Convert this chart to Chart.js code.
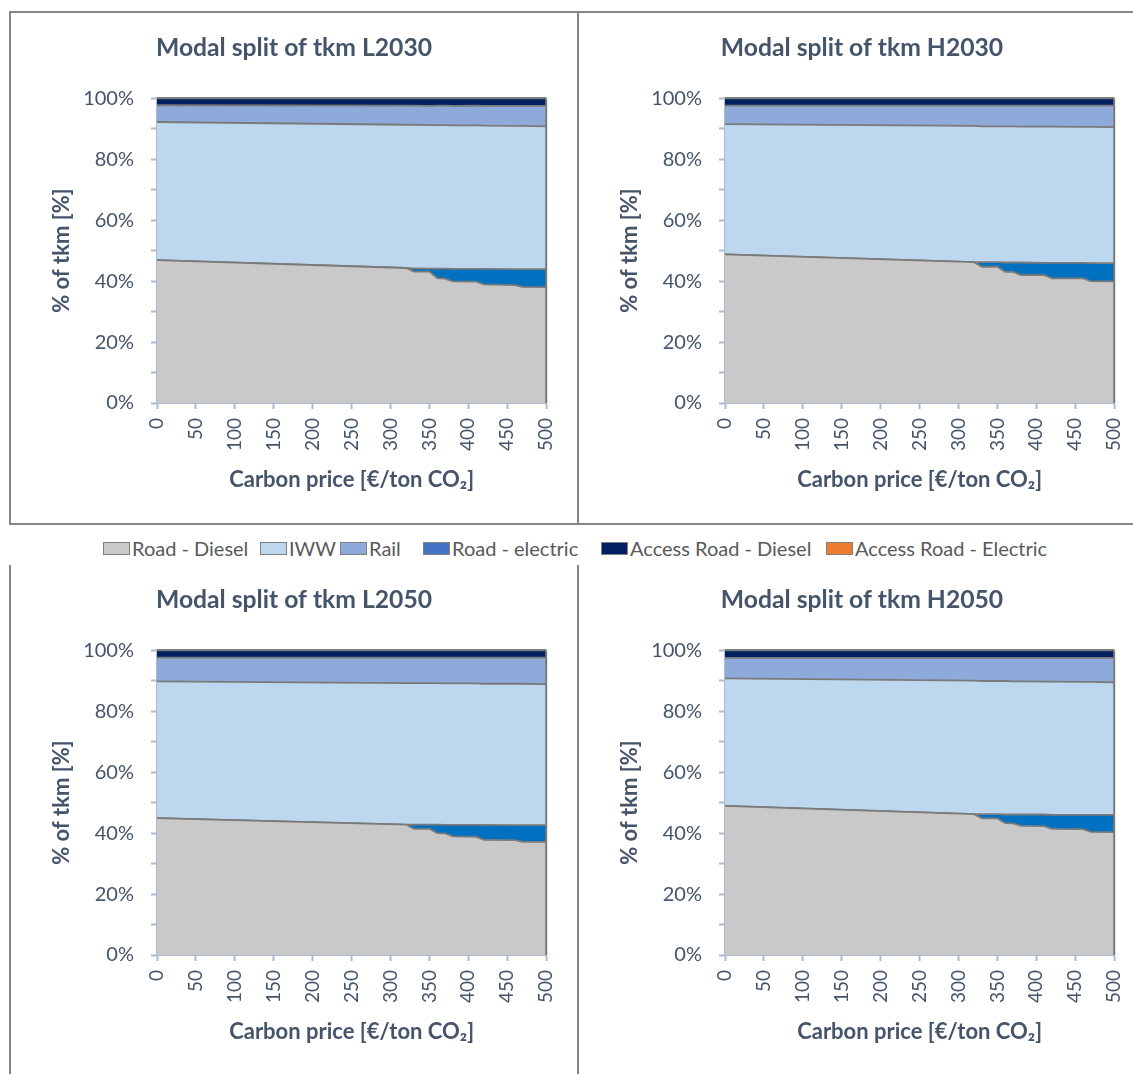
<!DOCTYPE html>
<html>
<head>
<meta charset="utf-8">
<title>Modal split of tkm</title>
<script src="https://cdn.jsdelivr.net/npm/chart.js@4.4.1/dist/chart.umd.min.js"></script>
<style>
  html, body { margin: 0; padding: 0; background: #fff; overflow: hidden; }
  #page { position: relative; width: 1133px; height: 1074px; overflow: hidden; font-family: Lato, "Open Sans", sans-serif; }
  .panel { position: absolute; width: 568px; height: 512px; }
  .rule { position: absolute; background: #868686; }
  #legend { position: absolute; left: 0; top: 537px; width: 1133px; height: 22px;
            white-space: nowrap; font-size: 20px; color: #595959; }
  .item { position: absolute; top: 0; height: 22px; display: flex; align-items: center; }
  .sw { width: 27px; height: 13px; border: 1px solid #7f7f7f; box-sizing: border-box; margin-right: 2px; }
</style>
</head>
<body>
<div id="page">
  <!-- frame lines around the panels -->
  <div class="rule" style="left:9px;top:11px;width:1124px;height:2px"></div>
  <div class="rule" style="left:9px;top:11px;width:2px;height:514px"></div>
  <div class="rule" style="left:577px;top:11px;width:2px;height:514px"></div>
  <div class="rule" style="left:9px;top:523px;width:1124px;height:2px"></div>
  <div class="rule" style="left:9px;top:565px;width:2px;height:509px"></div>
  <div class="rule" style="left:577px;top:565px;width:2px;height:509px"></div>

  <div class="panel" style="left:10px;top:12px"><canvas id="cL2030"></canvas></div>
  <div class="panel" style="left:578px;top:12px"><canvas id="cH2030"></canvas></div>
  <div class="panel" style="left:10px;top:564px"><canvas id="cL2050"></canvas></div>
  <div class="panel" style="left:578px;top:564px"><canvas id="cH2050"></canvas></div>

  <div id="legend"></div>
</div>

<script>
// Carbon price [€/ton CO2] at which the shares are given
const carbonPrice = [0, 320, 330, 350, 360, 370, 380, 410, 420, 460, 470, 500];

// Series names (stack order, bottom to top)
const seriesNames = ['Road - Diesel', 'Road - electric', 'IWW', 'Rail', 'Access Road - Diesel', 'Access Road - Electric'];
// Legend order
const legendOrder = ['Road - Diesel', 'IWW', 'Rail', 'Road - electric', 'Access Road - Diesel', 'Access Road - Electric'];

// Share of tkm [%] - scenario L2030
const roadDieselL2030    = [46.9, 44.3, 43.1, 43.1, 41.0, 40.8, 39.9, 39.8, 38.9, 38.7, 38.1, 38.0];
const roadElectricL2030  = [0.0, 0.0, 1.1, 1.0, 3.1, 3.3, 4.1, 4.2, 5.1, 5.2, 5.8, 5.9];
const iwwL2030           = [45.3, 47.0, 47.1, 47.1, 47.1, 47.1, 47.1, 47.1, 47.0, 47.0, 47.0, 46.9];
const railL2030          = [5.5, 6.3, 6.3, 6.3, 6.4, 6.4, 6.4, 6.5, 6.5, 6.6, 6.6, 6.7];
const accessDieselL2030  = [2.3, 2.4, 2.4, 2.5, 2.4, 2.4, 2.5, 2.4, 2.5, 2.5, 2.5, 2.5];
const accessElectricL2030 = [0, 0, 0, 0, 0, 0, 0, 0, 0, 0, 0, 0];

// Share of tkm [%] - scenario H2030
const roadDieselH2030    = [48.8, 46.2, 44.7, 44.7, 43.0, 43.0, 42.0, 42.0, 40.9, 40.9, 40.0, 39.9];
const roadElectricH2030  = [0.0, 0.0, 1.5, 1.5, 3.1, 3.1, 4.1, 4.0, 5.1, 5.1, 5.9, 6.0];
const iwwH2030           = [42.7, 44.7, 44.6, 44.6, 44.7, 44.7, 44.6, 44.7, 44.7, 44.6, 44.7, 44.6];
const railH2030          = [6.1, 6.7, 6.8, 6.8, 6.8, 6.8, 6.9, 6.9, 6.9, 7.0, 7.0, 7.1];
const accessDieselH2030  = [2.4, 2.4, 2.4, 2.4, 2.4, 2.4, 2.4, 2.4, 2.4, 2.4, 2.4, 2.4];
const accessElectricH2030 = [0, 0, 0, 0, 0, 0, 0, 0, 0, 0, 0, 0];

// Share of tkm [%] - scenario L2050
const roadDieselL2050    = [44.9, 42.8, 41.4, 41.4, 40.0, 39.9, 38.9, 38.8, 37.8, 37.7, 37.1, 37.1];
const roadElectricL2050  = [0.0, 0.0, 1.4, 1.4, 2.8, 2.8, 3.8, 3.9, 4.9, 4.9, 5.5, 5.5];
const iwwL2050           = [44.9, 46.4, 46.4, 46.4, 46.4, 46.4, 46.4, 46.4, 46.3, 46.4, 46.4, 46.3];
const railL2050          = [7.8, 8.4, 8.4, 8.4, 8.4, 8.5, 8.5, 8.5, 8.6, 8.6, 8.6, 8.7];
const accessDieselL2050  = [2.4, 2.4, 2.4, 2.4, 2.4, 2.4, 2.4, 2.4, 2.4, 2.4, 2.4, 2.4];
const accessElectricL2050 = [0, 0, 0, 0, 0, 0, 0, 0, 0, 0, 0, 0];

// Share of tkm [%] - scenario H2050
const roadDieselH2050    = [48.9, 46.2, 44.8, 44.8, 43.3, 43.2, 42.4, 42.3, 41.4, 41.3, 40.4, 40.3];
const roadElectricH2050  = [0.0, 0.0, 1.4, 1.4, 2.8, 2.9, 3.7, 3.8, 4.6, 4.7, 5.6, 5.7];
const iwwH2050           = [41.9, 43.8, 43.7, 43.7, 43.8, 43.7, 43.7, 43.6, 43.7, 43.6, 43.6, 43.5];
const railH2050          = [6.7, 7.5, 7.6, 7.6, 7.6, 7.7, 7.7, 7.8, 7.8, 7.9, 7.9, 8.0];
const accessDieselH2050  = [2.5, 2.5, 2.5, 2.5, 2.5, 2.5, 2.5, 2.5, 2.5, 2.5, 2.5, 2.5];
const accessElectricH2050 = [0, 0, 0, 0, 0, 0, 0, 0, 0, 0, 0, 0];

// Y-axis tick values (labels every 20 %, minor marks every 10 %)
const yTickLabels = [0, 20, 40, 60, 80, 100];
// X-axis tick labels
const xTickLabels = [0, 50, 100, 150, 200, 250, 300, 350, 400, 450, 500];

// Styling
const fillColors = {
  'Road - Diesel': '#c9c9c9',
  'Road - electric': '#0070c0',
  'IWW': '#bdd7ee',
  'Rail': '#8eaadb',
  'Access Road - Diesel': '#002060',
  'Access Road - Electric': '#ed7d31'
};
const swatchColors = {
  'Road - Diesel': '#c9c9c9',
  'IWW': '#bdd7ee',
  'Rail': '#8eaadb',
  'Road - electric': '#4472c4',
  'Access Road - Diesel': '#002060',
  'Access Road - Electric': '#ed7d31'
};
// Left edge of each legend entry
const legendLeft = [103, 260, 340, 423, 601, 826];

const edgeColor = '#7a7a7a';
const axisColor = '#adbad0';
const textColor = '#44546a';
const fontFamily = 'Lato, "Open Sans", sans-serif';

// Gray outline on the right side of the stacked areas
const rightEdge = {
  id: 'rightEdge',
  afterDatasetsDraw(chart) {
    const xs = chart.scales.x, ys = chart.scales.y;
    const ctx = chart.ctx;
    const x = xs.getPixelForValue(carbonPrice[carbonPrice.length - 1]);
    ctx.save();
    ctx.strokeStyle = edgeColor;
    ctx.lineWidth = 2;
    ctx.beginPath();
    ctx.moveTo(x, ys.getPixelForValue(100));
    ctx.lineTo(x, ys.getPixelForValue(0));
    ctx.stroke();
    ctx.restore();
  }
};

function makeChart(canvasId, title, seriesValues) {
  const datasets = seriesNames.map((name, i) => ({
    label: name,
    data: carbonPrice.map((p, k) => ({ x: p, y: seriesValues[i][k] })),
    backgroundColor: fillColors[name],
    borderColor: edgeColor,
    borderWidth: 1.8,
    pointRadius: 0,
    pointHoverRadius: 0,
    tension: 0,
    fill: i === 0 ? 'origin' : '-1',
    clip: 3
  }));

  return new Chart(document.getElementById(canvasId), {
    type: 'line',
    data: { datasets },
    plugins: [rightEdge],
    options: {
      responsive: true,
      maintainAspectRatio: false,
      animation: false,
      events: [],
      layout: { padding: { left: 0, right: 0, top: 0, bottom: 21 } },
      plugins: {
        legend: { display: false },
        tooltip: { enabled: false },
        title: {
          display: true,
          text: title,
          color: textColor,
          font: { family: fontFamily, size: 24.7, weight: 'bold' },
          padding: { top: 21.2, bottom: 35.4 }
        }
      },
      scales: {
        x: {
          type: 'linear',
          min: xTickLabels[0],
          max: xTickLabels[xTickLabels.length - 1],
          afterFit(scale) { scale.height = 100; },
          afterBuildTicks(scale) { scale.ticks = xTickLabels.map(v => ({ value: v })); },
          ticks: {
            autoSkip: false,
            minRotation: 90,
            maxRotation: 90,
            padding: 9,
            color: textColor,
            font: { family: fontFamily, size: 19 }
          },
          grid: { drawOnChartArea: false, drawTicks: true, tickLength: 6, color: axisColor, tickWidth: 2 },
          border: { display: true, color: axisColor, width: 2 },
          title: {
            display: true,
            text: 'Carbon price [€/ton CO₂]',
            color: textColor,
            font: { family: fontFamily, size: 22, weight: 'bold' },
            padding: { top: 0, bottom: 10 }
          }
        },
        y: {
          stacked: true,
          min: 0,
          max: 100,
          afterFit(scale) { scale.width = 147; },
          afterBuildTicks(scale) {
            const t = [];
            for (let v = 0; v <= 100; v += 10) t.push({ value: v });
            scale.ticks = t;
          },
          ticks: {
            padding: 17,
            color: textColor,
            font: { family: fontFamily, size: 20 },
            callback: v => (yTickLabels.includes(v) ? v + '%' : '')
          },
          grid: { drawOnChartArea: false, drawTicks: true, tickLength: 6, color: axisColor, tickWidth: 2 },
          border: { display: true, color: axisColor, width: 2 },
          title: {
            display: true,
            text: '% of tkm [%]',
            color: textColor,
            font: { family: fontFamily, size: 22, weight: 'bold' },
            padding: { top: 39, bottom: 0 }
          }
        },
        // empty margin on the right of the plot area
        yMargin: {
          position: 'right',
          min: 0,
          max: 100,
          afterFit(scale) { scale.width = 31; },
          ticks: { display: false },
          grid: { display: false },
          border: { display: false }
        }
      }
    }
  });
}

makeChart('cL2030', 'Modal split of tkm L2030',
  [roadDieselL2030, roadElectricL2030, iwwL2030, railL2030, accessDieselL2030, accessElectricL2030]);
makeChart('cH2030', 'Modal split of tkm H2030',
  [roadDieselH2030, roadElectricH2030, iwwH2030, railH2030, accessDieselH2030, accessElectricH2030]);
makeChart('cL2050', 'Modal split of tkm L2050',
  [roadDieselL2050, roadElectricL2050, iwwL2050, railL2050, accessDieselL2050, accessElectricL2050]);
makeChart('cH2050', 'Modal split of tkm H2050',
  [roadDieselH2050, roadElectricH2050, iwwH2050, railH2050, accessDieselH2050, accessElectricH2050]);

// Shared legend
const legend = document.getElementById('legend');
legendOrder.forEach((name, i) => {
  const item = document.createElement('div');
  item.className = 'item';
  item.style.left = legendLeft[i] + 'px';
  const sw = document.createElement('span');
  sw.className = 'sw';
  sw.style.background = swatchColors[name];
  const label = document.createElement('span');
  label.textContent = name;
  item.appendChild(sw);
  item.appendChild(label);
  legend.appendChild(item);
});
</script>
</body>
</html>
